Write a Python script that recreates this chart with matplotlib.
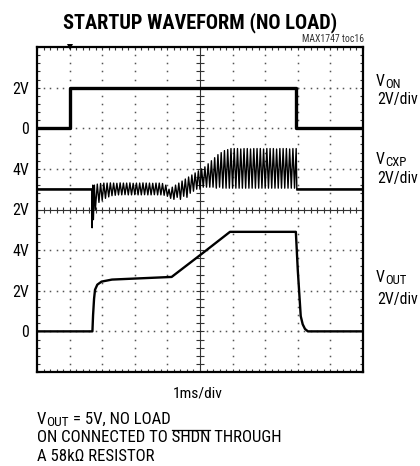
import matplotlib
matplotlib.use("Agg")
import matplotlib.pyplot as plt
from matplotlib import font_manager
from matplotlib.ticker import MultipleLocator

# ---------------- data (time in ms = divisions, values in volts) ----------------
von_t = [0.0, 1.0, 1.0, 7.96, 7.96, 10.0]
von_v = [0.0, 0.0, 2.0, 2.0, 0.0, 0.0]

# VCXP: lead-in (baseline + start-up spike)
cxp_pre_t = [0.0, 1.68, 1.69, 1.71, 1.73, 1.76, 1.79]
cxp_pre_v = [3.0, 3.0, 1.1, 3.2, 1.5, 3.2, 2.0]
# VCXP: switching cycles (time of each peak; trough 0.05 ms later)
cxp_cycle_t = [1.85, 1.95, 2.05, 2.15, 2.25, 2.35, 2.45, 2.55, 2.65, 2.75,
               2.85, 2.95, 3.05, 3.15, 3.25, 3.35, 3.45, 3.55, 3.65, 3.75,
               3.85, 3.95, 4.05, 4.15, 4.25, 4.35, 4.45, 4.55, 4.65, 4.75,
               4.85, 4.95, 5.05, 5.15, 5.25, 5.35, 5.45, 5.55, 5.65, 5.75,
               5.85, 5.95, 6.05, 6.15, 6.25, 6.35, 6.45, 6.55, 6.65, 6.75,
               6.85, 6.95, 7.05, 7.15, 7.25, 7.35, 7.45, 7.55, 7.65, 7.75,
               7.85]
cxp_peak = [3.25, 3.28, 3.30, 3.30, 3.31, 3.30, 3.29, 3.31, 3.30, 3.30,
            3.31, 3.29, 3.30, 3.30, 3.31, 3.30, 3.30, 3.29, 3.30, 3.30,
            3.28, 3.20, 3.00, 3.10, 3.20, 3.30, 3.40, 3.50, 3.60, 3.70,
            3.80, 3.90, 4.00, 4.10, 4.25, 4.40, 4.55, 4.70, 4.80, 4.90,
            4.95, 5.00, 5.00, 5.00, 4.98, 5.00, 5.00, 4.98, 5.00, 5.00,
            5.00, 4.98, 5.00, 5.00, 5.00, 4.98, 5.00, 5.00, 5.00, 4.98,
            5.00]
cxp_trough = [2.35, 2.45, 2.55, 2.62, 2.68, 2.70, 2.72, 2.72, 2.73, 2.72,
              2.72, 2.73, 2.72, 2.72, 2.73, 2.72, 2.72, 2.73, 2.72, 2.72,
              2.70, 2.65, 2.55, 2.50, 2.60, 2.50, 2.65, 2.60, 2.80, 2.90,
              3.00, 3.00, 3.10, 3.10, 3.10, 3.10, 3.05, 3.10, 3.05, 3.05,
              3.05, 3.05, 3.05, 3.05, 3.05, 3.05, 3.05, 3.05, 3.05, 3.05,
              3.05, 3.05, 3.05, 3.05, 3.05, 3.05, 3.05, 3.05, 3.05, 3.05,
              3.05]
cxp_post_t = [7.95, 7.97, 10.0]
cxp_post_v = [5.0, 3.0, 3.0]

vout_t = [0.0, 1.70, 1.72, 1.75, 1.78, 1.85, 1.98, 2.30, 3.00, 4.13,
          5.00, 5.92, 7.94, 8.00, 8.09, 8.15, 8.22, 8.31, 10.0]
vout_v = [0.0, 0.0, 0.8, 1.6, 2.05, 2.30, 2.45, 2.55, 2.60, 2.68,
          3.75, 4.90, 4.90, 3.00, 0.75, 0.35, 0.12, 0.0, 0.0]

# channel zero positions (divisions from bottom), 2 V/div
von_zero, cxp_zero, vout_zero = 6, 3, 1
volts_per_div = 2.0

left_labels = [("2V", 7), ("0", 6), ("4V", 5), ("2V", 4), ("4V", 3), ("2V", 2), ("0", 1)]

# ---------------- font choice (prefer a condensed face) ----------------
FONT = ["Liberation Sans", "DejaVu Sans"]
for cand in ["Roboto Condensed", "Liberation Sans Narrow", "Open Sans Condensed",
             "DejaVu Sans Condensed"]:
    try:
        font_manager.findfont(cand, fallback_to_default=False)
        FONT = [cand, "Liberation Sans", "DejaVu Sans"]
        break
    except Exception:
        pass

# ---------------- figure ----------------
W, H = 420, 466
fig = plt.figure(figsize=(W / 100, H / 100), dpi=100)
ax = fig.add_axes([37 / W, 1 - 372 / H, 326 / W, 325 / H])
ax.set_xlim(0, 10)
ax.set_ylim(0, 8)

# grid dots
dot_kw = dict(linestyle="none", marker="s", markersize=1.1, color="#555555",
              markeredgewidth=0)
steps = [k * 0.2 for k in range(0, 51)]
for i in range(1, 10):
    if i == 5:
        continue
    ax.plot([i] * 41, [k * 0.2 for k in range(41)], **dot_kw)
for j in range(1, 8):
    if j == 4:
        continue
    ax.plot(steps, [j] * 51, **dot_kw)

# centre crosshair with fine ticks
ax.axvline(5, color="#333333", lw=0.8)
ax.axhline(4, color="#333333", lw=0.8)
ax.plot([5] * 41, [k * 0.2 for k in range(41)], linestyle="none", marker="_",
        markersize=5.5, markeredgewidth=0.8, color="#333333")
ax.plot(steps, [4] * 51, linestyle="none", marker="|",
        markersize=5.0, markeredgewidth=0.8, color="#333333")


def to_div(vals, zero):
    return [zero + v / volts_per_div for v in vals]


ax.plot(von_t, to_div(von_v, von_zero), color="black", lw=2.4)

cxp_t = list(cxp_pre_t)
cxp_v = list(cxp_pre_v)
for t, p, b in zip(cxp_cycle_t, cxp_peak, cxp_trough):
    cxp_t += [t, t + 0.05]
    cxp_v += [p, b]
cxp_t += cxp_post_t
cxp_v += cxp_post_v
ax.plot(cxp_t, to_div(cxp_v, cxp_zero), color="black", lw=1.0)
ax.plot(cxp_pre_t[:2], to_div(cxp_pre_v[:2], cxp_zero), color="black", lw=1.8)
ax.plot(cxp_post_t[1:], to_div(cxp_post_v[1:], cxp_zero), color="black", lw=1.8)

ax.plot(vout_t, to_div(vout_v, vout_zero), color="black", lw=1.7)

# trigger marker
ax.plot([1.0], [8.0], marker="v", markersize=5, color="black", clip_on=False,
        markeredgewidth=0)

# frame and ticks
for s in ax.spines.values():
    s.set_linewidth(1.6)
ax.xaxis.set_major_locator(MultipleLocator(1))
ax.yaxis.set_major_locator(MultipleLocator(1))
ax.xaxis.set_minor_locator(MultipleLocator(0.2))
ax.yaxis.set_minor_locator(MultipleLocator(0.2))
ax.tick_params(which="both", direction="in", length=2.5, width=0.8,
               top=True, right=True, labelbottom=False, labelleft=False,
               color="#333333")

# ---------------- text ----------------
fig.canvas.draw()
renderer = fig.canvas.get_renderer()


def px(x, y):
    return x / W, 1 - y / H


def width_of(s, size, **kw):
    tt = fig.text(0, 0, s, fontsize=size, family=FONT, **kw)
    w = tt.get_window_extent(renderer).width
    tt.remove()
    return w


def fit_size(s, nominal, target_w, **kw):
    w = width_of(s, nominal, **kw)
    return min(nominal, nominal * target_w / w)


title = "STARTUP WAVEFORM (NO LOAD)"
tsz = fit_size(title, 17, 276, fontweight="heavy")
fig.text(*px(200, 23), title, ha="center", va="center",
         fontsize=tsz, fontweight="heavy", family=FONT)
fig.text(*px(364, 39.5), "MAX1747 toc16", ha="right", va="center",
         fontsize=fit_size("MAX1747 toc16", 7, 63), family=FONT, color="#333333")

lsz = fit_size("2V/div", 12.5, 41)
for lab, d in left_labels:
    ypx = 372 - d * 325 / 8 + 1.5
    fig.text(*px(29, ypx), lab, ha="right", va="center", fontsize=lsz, family=FONT)


def sub_label(x, y, main, sub, size):
    t = fig.text(x / W, 1 - y / H, main, ha="left", va="center", fontsize=size,
                 family=FONT)
    bb = t.get_window_extent(renderer)
    fig.text(bb.x1 / W, 1 - (y + 3.5) / H, sub, ha="left", va="center",
             fontsize=size * 0.8, family=FONT)


sub_label(376, 81, "V", "ON", lsz)
fig.text(*px(377, 99.5), "2V/div", ha="left", va="center", fontsize=lsz, family=FONT)
sub_label(376, 159, "V", "CXP", lsz)
fig.text(*px(377, 178.5), "2V/div", ha="left", va="center", fontsize=lsz, family=FONT)
sub_label(376, 277.5, "V", "OUT", lsz)
fig.text(*px(377, 299.5), "2V/div", ha="left", va="center", fontsize=lsz, family=FONT)

fig.text(*px(198, 393.5), "1ms/div", ha="center", va="center",
         fontsize=fit_size("1ms/div", 12.5, 50), family=FONT)

# footnote
line2 = "ON CONNECTED TO SHDN THROUGH"
sz = fit_size(line2, 13.5, 245)
y1, y2, y3 = 419.0, 438.0, 456.5
tv = fig.text(*px(37, y1), "V", ha="left", va="center", fontsize=sz, family=FONT)
bb = tv.get_window_extent(renderer)
ts = fig.text(bb.x1 / W, 1 - (y1 + 3.5) / H, "OUT", ha="left", va="center",
              fontsize=sz * 0.8, family=FONT)
bb = ts.get_window_extent(renderer)
fig.text(bb.x1 / W, 1 - y1 / H, " = 5V, NO LOAD", ha="left", va="center",
         fontsize=sz, family=FONT)

t2 = fig.text(*px(37, y2), line2, ha="left", va="center", fontsize=sz, family=FONT)
x_start = 37 + width_of("ON CONNECTED TO S", sz) - width_of("S", sz)
x_end = 37 + width_of("ON CONNECTED TO SHDN", sz)
bb2 = t2.get_window_extent(renderer)
y_over = bb2.y1 + 0.5
fig.add_artist(plt.Line2D([x_start / W, x_end / W], [y_over / H, y_over / H],
                          color="black", lw=0.9))

fig.text(*px(37, y3), "A 58k\u03a9 RESISTOR", ha="left", va="center",
         fontsize=sz, family=FONT)

fig.savefig("out.png", dpi=100)
